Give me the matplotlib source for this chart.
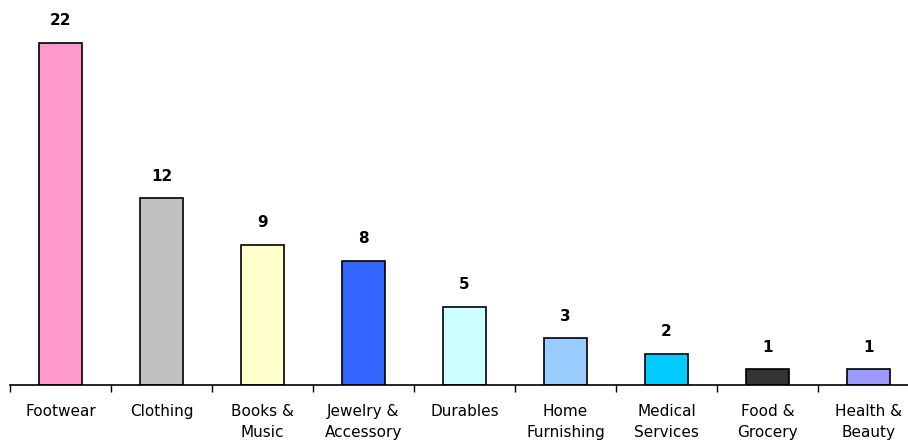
import matplotlib.pyplot as plt
import numpy as np

categories = ['Footwear', 'Clothing', 'Books &\nMusic', 'Jewelry &\nAccessory', 'Durables',
              'Home\nFurnishing', 'Medical\nServices', 'Food &\nGrocery', 'Health &\nBeauty']
values = [22, 12, 9, 8, 5, 3, 2, 1, 1]
colors = ['#FF99CC', '#C0C0C0', '#FFFFCC', '#3366FF', '#CCFFFF',
          '#99CCFF', '#00CCFF', '#333333', '#9999FF']

fig = plt.figure(figsize=(9.08, 4.46), dpi=100)
ax = fig.add_axes([10 / 908, 61 / 446, 909 / 908, 385 / 446])

x = np.arange(len(values))
ax.bar(x, values, width=0.42, color=colors, edgecolor='black', linewidth=1.2)

for xi, v in zip(x, values):
    ax.text(xi, v + 0.95, str(v), ha='center', va='bottom',
            fontsize=11, fontweight='bold')

ax.set_xlim(-0.5, len(values) - 0.5)
ax.set_ylim(0, 24.76)

for s in ['top', 'right', 'left']:
    ax.spines[s].set_visible(False)
ax.spines['bottom'].set_linewidth(1.2)
ax.set_yticks([])

ax.set_xticks(x)
ax.set_xticklabels(categories, fontsize=11, linespacing=1.5)
ax.tick_params(axis='x', which='major', length=0, pad=14)
ax.set_xticks(np.arange(-0.5, len(values)), minor=True)
ax.tick_params(axis='x', which='minor', length=5, width=1.0, direction='out')

fig.savefig('out.png', dpi=100)
